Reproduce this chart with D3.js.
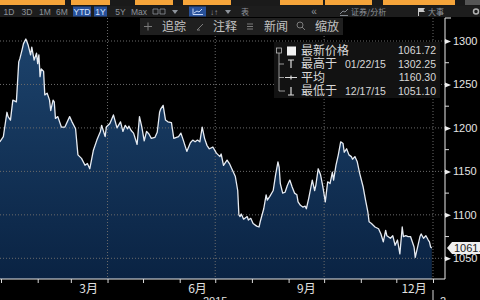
<!DOCTYPE html>
<html lang="zh">
<head>
<meta charset="utf-8" />
<script src="https://cdn.jsdelivr.net/npm/d3@7"></script>
<style>
  body { margin: 0; background: #000; }
  svg { display: block; font-family: "Liberation Sans", Arial, "Noto Sans CJK SC", sans-serif; }
</style>
</head>
<body>
<svg id="chart" width="480" height="300"></svg>
<script>
// gold price, 12/31/2014 - 12/31/2015
const dates = [
  "2014-12-31","2015-01-03","2015-01-06","2015-01-07","2015-01-09","2015-01-11","2015-01-14","2015-01-16","2015-01-17","2015-01-19",
  "2015-01-20","2015-01-22","2015-01-24","2015-01-26","2015-01-27","2015-01-29","2015-01-31","2015-02-01","2015-02-02","2015-02-03",
  "2015-02-04","2015-02-06","2015-02-07","2015-02-09","2015-02-11","2015-02-12","2015-02-14","2015-02-15","2015-02-16","2015-02-18",
  "2015-02-21","2015-02-24","2015-02-28","2015-03-02","2015-03-05","2015-03-07","2015-03-10","2015-03-13","2015-03-15","2015-03-17",
  "2015-03-20","2015-03-23","2015-03-26","2015-03-27","2015-03-30","2015-03-31","2015-04-03","2015-04-06","2015-04-09","2015-04-12",
  "2015-04-14","2015-04-16","2015-04-18","2015-04-19","2015-04-21","2015-04-23","2015-04-26","2015-04-28","2015-04-30","2015-05-02",
  "2015-05-04","2015-05-06","2015-05-08","2015-05-11","2015-05-13","2015-05-15","2015-05-16","2015-05-18","2015-05-20","2015-05-22",
  "2015-05-25","2015-05-27","2015-05-31","2015-06-02","2015-06-04","2015-06-07","2015-06-10","2015-06-12","2015-06-14","2015-06-16",
  "2015-06-18","2015-06-20","2015-06-22","2015-06-24","2015-06-26","2015-06-29","2015-07-02","2015-07-05","2015-07-06","2015-07-08",
  "2015-07-11","2015-07-13","2015-07-15","2015-07-18","2015-07-20","2015-07-21","2015-07-22","2015-07-23","2015-07-25","2015-07-28",
  "2015-07-29","2015-07-31","2015-08-02","2015-08-05","2015-08-07","2015-08-08","2015-08-11","2015-08-13","2015-08-14","2015-08-16",
  "2015-08-19","2015-08-21","2015-08-23","2015-08-24","2015-08-25","2015-08-27","2015-08-29","2015-08-31","2015-09-02","2015-09-04",
  "2015-09-06","2015-09-08","2015-09-09","2015-09-11","2015-09-13","2015-09-15","2015-09-16","2015-09-18","2015-09-21","2015-09-23",
  "2015-09-24","2015-09-26","2015-09-28","2015-09-30","2015-10-02","2015-10-04","2015-10-06","2015-10-08","2015-10-09","2015-10-11",
  "2015-10-13","2015-10-15","2015-10-17","2015-10-18","2015-10-20","2015-10-22","2015-10-24","2015-10-25","2015-10-27","2015-10-29",
  "2015-10-31","2015-11-03","2015-11-05","2015-11-07","2015-11-08","2015-11-10","2015-11-13","2015-11-16","2015-11-18","2015-11-20",
  "2015-11-22","2015-11-23","2015-11-24","2015-11-26","2015-11-28","2015-11-30","2015-12-02","2015-12-04","2015-12-06","2015-12-07",
  "2015-12-09","2015-12-11","2015-12-13","2015-12-15","2015-12-16","2015-12-17","2015-12-21","2015-12-22","2015-12-24","2015-12-26",
  "2015-12-28","2015-12-29","2015-12-30","2015-12-31"
];
const prices = [
  1184,1190,1218,1213,1209,1232,1230,1276,1280,1291,
  1297,1302.25,1295,1284,1293,1278,1286,1274,1284,1259,
  1268,1265,1238,1240,1232,1220,1232,1230,1211,1213,
  1201,1201,1213,1207,1199,1169,1165,1157,1159,1153,
  1174,1186,1196,1203,1190,1201,1205,1215,1200,1207,
  1196,1203,1199,1202,1197,1194,1181,1213,1201,1185,
  1196,1193,1188,1189,1195,1218,1222,1226,1209,1207,
  1206,1188,1190,1194,1186,1173,1183,1186,1184,1186,
  1184,1201,1188,1180,1176,1178,1171,1167,1170,1157,
  1163,1159,1153,1144,1128,1100,1098,1101,1095,1098,
  1094,1096,1090,1087,1086,1092,1107,1123,1117,1121,
  1128,1146,1161,1155,1136,1125,1126,1134,1140,1132,
  1125,1123,1115,1111,1109,1110,1107,1119,1140,1128,
  1134,1153,1146,1132,1115,1138,1136,1149,1140,1157,
  1169,1184,1182,1172,1176,1169,1167,1164,1167,1161,
  1148,1132,1117,1103,1092,1090,1086,1084,1078,1069,
  1082,1076,1075,1073,1076,1065,1071,1055,1086,1075,
  1076,1075,1075,1067,1063,1051.1,1075,1078,1073,1076,
  1071,1069,1063,1061.72
];

const yTicks = [1050, 1100, 1150, 1200, 1250, 1300];
const monthLabels = ["3月", "6月", "9月", "12月"];
const labelMonths = [2, 5, 8, 11];
const yearLabels = ["2015", "2016"];

const legendLabels = ["最新价格", "最高于", "平均", "最低于"];
const legendDates = ["", "01/22/15", "", "12/17/15"];
const legendValues = [1061.72, 1302.25, 1160.30, 1051.10];

const rangeButtons = ["1D", "3D", "1M", "6M", "YTD", "1Y", "5Y", "Max"];
const activeButtons = ["YTD", "1Y"];
const toolButtons = ["追踪", "注释", "新闻", "缩放"];
const rightMenu = ["证券/分析", "大事"];

const parse = d3.timeParse("%Y-%m-%d");
const data = dates.map((d, i) => ({ date: parse(d), price: prices[i] }));
const fmt = d3.format(".2f");
const cjk = '"Noto Sans CJK SC", sans-serif';

const svg = d3.select("#chart");
const plotRight = 445, plotBottom = 279, plotTop = 18;

const x = d3.scaleTime()
  .domain([new Date(2015, 0, 1), new Date(2016, 0, 1)])
  .range([1, 433]);
const y = d3.scaleLinear().domain([1050, 1300]).range([258.3, 41]);

svg.append("rect").attr("width", 480).attr("height", 300).attr("fill", "#000");

const grad = svg.append("defs").append("linearGradient")
  .attr("id", "fillGrad").attr("gradientUnits", "userSpaceOnUse")
  .attr("x1", 0).attr("y1", 41).attr("x2", 0).attr("y2", plotBottom);
grad.append("stop").attr("offset", "0%").attr("stop-color", "#1c426b");
grad.append("stop").attr("offset", "100%").attr("stop-color", "#0a2343");

svg.append("path").datum(data)
  .attr("fill", "url(#fillGrad)")
  .attr("d", d3.area().x(d => x(d.date)).y0(plotBottom).y1(d => y(d.price)));

// dotted grid
svg.append("g").selectAll("line").data(yTicks).join("line")
  .attr("x1", 0).attr("x2", plotRight)
  .attr("y1", d => y(d)).attr("y2", d => y(d))
  .attr("stroke", "#6b6b6b").attr("stroke-dasharray", "1,2");
svg.append("g").selectAll("line")
  .data(d3.timeMonth.every(3).range(new Date(2015, 3, 1), new Date(2016, 0, 2)))
  .join("line")
  .attr("x1", d => x(d)).attr("x2", d => x(d))
  .attr("y1", plotTop).attr("y2", plotBottom)
  .attr("stroke", "#6b6b6b").attr("stroke-dasharray", "1,2");

svg.append("path").datum(data)
  .attr("fill", "none").attr("stroke", "#e6ebf2").attr("stroke-width", 1.3)
  .attr("stroke-linejoin", "round")
  .attr("d", d3.line().x(d => x(d.date)).y(d => y(d.price)));

// legend box
const lg = svg.append("g").attr("fill", "#d8d8d8");
lg.append("rect").attr("x", 274).attr("y", 42).attr("width", 166).attr("height", 56).attr("fill", "#121212");
const rowY = d3.scalePoint().domain(d3.range(legendLabels.length)).range([50.5, 91]);
lg.append("rect").attr("x", 276.5).attr("y", 48).attr("width", 5).attr("height", 5)
  .attr("fill", "none").attr("stroke", "#bbb").attr("stroke-width", 0.8);
lg.append("rect").attr("x", 287).attr("y", 46.5).attr("width", 9).attr("height", 9).attr("fill", "#f2f2f2");
lg.append("path").attr("fill", "none").attr("stroke", "#bbb").attr("stroke-width", 0.8)
  .attr("d", `M279,53V${rowY(3)}H285M279,${rowY(1)}H284M279,${rowY(2)}H284`);
lg.append("path").attr("fill", "none").attr("stroke", "#ddd").attr("stroke-width", 1.2)
  .attr("d", `M288,${rowY(1) - 4}H294M291,${rowY(1) - 4}V${rowY(1) + 4}` +
             `M285,${rowY(2)}H297M291,${rowY(2) - 2}V${rowY(2) + 2}` +
             `M291,${rowY(3) - 4}V${rowY(3) + 4}M288,${rowY(3) + 4}H294`);
lg.selectAll("text.lab").data(legendLabels).join("text").attr("class", "lab")
  .attr("x", 301).attr("y", (d, i) => rowY(i)).attr("dy", "0.36em")
  .style("font-family", cjk).style("font-size", "12px").text(d => d);
lg.selectAll("text.dt").data(legendDates).join("text").attr("class", "dt")
  .attr("x", 345).attr("y", (d, i) => rowY(i)).attr("dy", "0.36em")
  .style("font-size", "10.5px").text(d => d);
lg.selectAll("text.val").data(legendValues).join("text").attr("class", "val")
  .attr("x", 436).attr("y", (d, i) => rowY(i)).attr("dy", "0.36em")
  .attr("text-anchor", "end").style("font-size", "10.5px").text(d => fmt(d));

// bottom axis
const gx = svg.append("g").attr("transform", `translate(0,${plotBottom})`)
  .call(d3.axisBottom(x).ticks(d3.timeMonth.every(1)).tickSize(4).tickFormat(""));
gx.select(".domain").remove();
gx.selectAll("line").attr("stroke", "#d8d8d8");
svg.append("line").attr("x1", 0).attr("x2", plotRight).attr("y1", plotBottom).attr("y2", plotBottom)
  .attr("stroke", "#e8e8e8");
svg.append("g").selectAll("text").data(monthLabels).join("text")
  .attr("x", (d, i) => x(new Date(2015, labelMonths[i], 16)))
  .attr("y", 292.5).attr("text-anchor", "middle")
  .attr("fill", "#e0e0e0").style("font-family", cjk).style("font-size", "12px")
  .text(d => d);
svg.append("defs").append("clipPath").attr("id", "yearClip")
  .append("rect").attr("x", 0).attr("y", 280).attr("width", 446).attr("height", 20);
svg.append("g").attr("clip-path", "url(#yearClip)").selectAll("text").data(yearLabels).join("text")
  .attr("x", (d, i) => i === 0 ? x(new Date(2015, 6, 1)) : x(new Date(2016, 0, 1)) + 7)
  .attr("y", 305).attr("text-anchor", (d, i) => i === 0 ? "middle" : "start")
  .attr("fill", "#e0e0e0").style("font-size", "11px").text(d => d);
svg.append("line").attr("x1", x(new Date(2016, 0, 1))).attr("x2", x(new Date(2016, 0, 1)))
  .attr("y1", 290).attr("y2", 300).attr("stroke", "#d8d8d8");

// right axis
svg.append("path").attr("fill", "none").attr("stroke", "#eaeaea")
  .attr("d", `M451,${plotTop}H${plotRight}V${plotBottom}`);
const gy = svg.append("g").attr("transform", `translate(${plotRight},0)`)
  .call(d3.axisRight(y).tickValues(yTicks).tickFormat(d3.format("d")).tickSize(0).tickPadding(8));
gy.select(".domain").remove();
gy.attr("font-family", null).attr("font-size", null);
gy.selectAll("text").attr("fill", "#e4e4e4").style("font-size", "11px");
gy.selectAll(".tick").append("path").attr("d", "M0,-2.5L6,0L0,2.5Z").attr("fill", "#eee");
svg.append("g").selectAll("line").data(yTicks.slice(0, -1).map(v => v + 25)).join("line")
  .attr("x1", plotRight).attr("x2", plotRight + 4)
  .attr("y1", d => y(d)).attr("y2", d => y(d)).attr("stroke", "#ddd");

// last price tag
const last = data[data.length - 1];
const ly = y(last.price);
svg.append("path").attr("fill", "#f0f0f0")
  .attr("d", `M447,${ly}L452,${ly - 6}H482V${ly + 6}H452Z`);
svg.append("text").attr("x", 454).attr("y", ly).attr("dy", "0.36em")
  .attr("fill", "#222").style("font-size", "11px").text(fmt(last.price));

// toolbar: orange field row
const bar = svg.append("g");
bar.append("rect").attr("width", 480).attr("height", 6).attr("fill", "#1a1a1a");
[[0, 65], [71, 110], [135, 173], [183, 231], [280, 323], [325, 372], [383, 455]].forEach(b => {
  bar.append("rect").attr("x", b[0]).attr("y", 0).attr("width", b[1] - b[0]).attr("height", 5).attr("fill", "#f5a43a");
});
bar.append("rect").attr("x", 465).attr("y", 0).attr("width", 15).attr("height", 5).attr("fill", "#555");

// toolbar: range buttons row
bar.append("rect").attr("y", 6).attr("width", 480).attr("height", 11).attr("fill", "#1d1d1d");
const rangeCenters = [9, 27, 45, 62, 82, 100.5, 120.5, 139];
const rangeWidths = { "YTD": 18, "1Y": 13 };
rangeButtons.forEach((b, i) => {
  const on = activeButtons.includes(b);
  if (on) bar.append("rect").attr("x", rangeCenters[i] - rangeWidths[b] / 2).attr("y", 6.5)
    .attr("width", rangeWidths[b]).attr("height", 10).attr("fill", "#28519a");
  bar.append("text").attr("x", rangeCenters[i]).attr("y", 11.7).attr("dy", "0.35em")
    .attr("text-anchor", "middle").attr("fill", on ? "#d6e4ff" : "#8d939b")
    .style("font-size", "8.5px").text(b);
});
bar.append("path").attr("fill", "none").attr("stroke", "#8d939b").attr("stroke-width", 0.8)
  .attr("d", "M153,9h5v5h-5zM160,9h5v5h-5z");
bar.append("path").attr("fill", "#8d939b").attr("d", "M172,10h6l-3,4zM225,10h6l-3,4z");
bar.append("rect").attr("x", 189).attr("y", 6.5).attr("width", 17).attr("height", 10).attr("fill", "#28519a");
bar.append("path").attr("fill", "none").attr("stroke", "#d6e4ff").attr("stroke-width", 0.9)
  .attr("d", "M193,8.5V14.5H203M194,13l3,-2l2,1l3,-3");
bar.append("text").attr("x", 214).attr("y", 11.7).attr("dy", "0.35em").attr("text-anchor", "middle")
  .attr("fill", "#8d939b").style("font-size", "8px").text("↓↑");
bar.append("text").attr("x", 245).attr("y", 11.7).attr("dy", "0.35em").attr("text-anchor", "middle")
  .attr("fill", "#8d939b").style("font-family", cjk).style("font-size", "8px").text("表");
bar.append("text").attr("x", 314).attr("y", 11.7).attr("dy", "0.35em").attr("text-anchor", "middle")
  .attr("fill", "#8d939b").style("font-size", "10px").text("«");
bar.append("path").attr("fill", "none").attr("stroke", "#8d939b").attr("stroke-width", 0.9)
  .attr("d", "M340,14l3,-3l2,1l3,-3M340,15.5h8");
bar.append("text").attr("x", 351).attr("y", 11.7).attr("dy", "0.35em")
  .attr("fill", "#8d939b").style("font-family", cjk).style("font-size", "8px").text(rightMenu[0]);
bar.append("path").attr("fill", "#c8c8c8").attr("d", "M418,8h1v8h-1zM419,8h6l-1.5,2l1.5,2h-6z");
bar.append("text").attr("x", 428).attr("y", 11.7).attr("dy", "0.35em")
  .attr("fill", "#8d939b").style("font-family", cjk).style("font-size", "8px").text(rightMenu[1]);
bar.append("circle").attr("cx", 476).attr("cy", 11.5).attr("r", 2.5)
  .attr("fill", "none").attr("stroke", "#b0b0b0").attr("stroke-width", 1.5);

// toolbar: tool buttons
bar.append("rect").attr("x", 140).attr("y", 18).attr("width", 203).attr("height", 17).attr("fill", "#1f1f1f");
const icons = [
  "M144,26.5h8M148,22.5v8",
  "M197,30l6,-6M197,30h3",
  "M247,24h6M247,26.5h6M247,29h6",
  "M305,30l-3,-3"
];
toolButtons.forEach((b, i) => {
  const ix = 148 + i * 51;
  bar.append("path").attr("fill", "none").attr("stroke", "#7c7c7c").attr("stroke-width", 1).attr("d", icons[i]);
  bar.append("text").attr("x", ix + 14).attr("y", 26.5).attr("dy", "0.36em")
    .attr("fill", "#c2c2c2").style("font-family", cjk).style("font-size", "12px").text(b);
});
bar.append("circle").attr("cx", 300).attr("cy", 25).attr("r", 3)
  .attr("fill", "none").attr("stroke", "#7c7c7c");
</script>
</body>
</html>
